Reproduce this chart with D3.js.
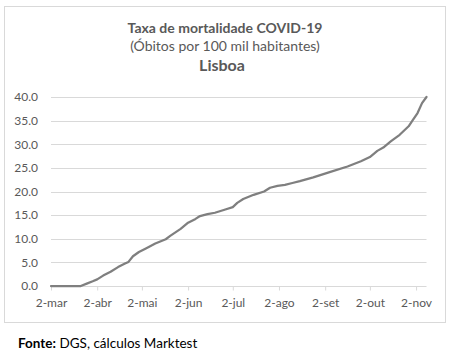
<!DOCTYPE html>
<html>
<head>
<meta charset="utf-8">
<script src="https://cdn.jsdelivr.net/npm/d3@7"></script>
<style>
  html, body { margin: 0; padding: 0; background: #ffffff; }
  svg { display: block; }
</style>
</head>
<body>
<svg id="chart" width="454" height="359"></svg>
<script>
// ---- Data ----
const dates = [
  "2020-03-02","2020-03-22","2020-03-26","2020-03-30","2020-04-02","2020-04-06",
  "2020-04-11","2020-04-16","2020-04-21","2020-04-23","2020-04-26","2020-04-30",
  "2020-05-05","2020-05-11","2020-05-18","2020-05-21","2020-05-28","2020-06-02",
  "2020-06-07","2020-06-10","2020-06-15","2020-06-20","2020-06-27","2020-07-02",
  "2020-07-05","2020-07-09","2020-07-16","2020-07-23","2020-07-27","2020-08-01",
  "2020-08-06","2020-08-11","2020-08-16","2020-08-25","2020-09-05","2020-09-17",
  "2020-09-26","2020-10-02","2020-10-07","2020-10-11","2020-10-16","2020-10-22",
  "2020-10-28","2020-10-31","2020-11-03","2020-11-06","2020-11-09"
];
const rates = [
  0.0, 0.0, 0.5, 1.0, 1.4, 2.2,
  3.0, 4.0, 4.8, 5.1, 6.3, 7.2,
  8.0, 9.0, 9.9, 10.6, 12.1, 13.4,
  14.2, 14.8, 15.2, 15.5, 16.2, 16.7,
  17.6, 18.4, 19.3, 20.0, 20.8, 21.2,
  21.4, 21.8, 22.2, 23.0, 24.1, 25.3,
  26.4, 27.3, 28.6, 29.3, 30.6, 32.0,
  33.8, 35.2, 36.6, 38.7, 40.0
];
const xTickDates = ["2020-03-02","2020-04-02","2020-05-02","2020-06-02","2020-07-02",
                    "2020-08-02","2020-09-02","2020-10-02","2020-11-02"];
const xTickLabels = ["2-mar","2-abr","2-mai","2-jun","2-jul","2-ago","2-set","2-out","2-nov"];
const yTicks = [0, 5, 10, 15, 20, 25, 30, 35, 40];
const titleLines = ["Taxa de mortalidade COVID-19", "(Óbitos por 100 mil habitantes)", "Lisboa"];
const sourceBold = "Fonte:";
const sourceText = " DGS, cálculos Marktest";

// ---- Chart ----
const parse = d3.timeParse("%Y-%m-%d");
const data = dates.map((d, i) => ({ date: parse(d), value: rates[i] }));

const svg = d3.select("#chart");
const font = "Lato, 'Open Sans', sans-serif";
const textColor = "#595959";
const gridColor = "#d9d9d9";

// outer chart border
svg.append("rect")
  .attr("x", 4.5).attr("y", 6.5)
  .attr("width", 441).attr("height", 316)
  .attr("fill", "#fff").attr("stroke", gridColor).attr("stroke-width", 1);

// title
svg.append("text").attr("x", 225).attr("y", 33)
  .attr("text-anchor", "middle").attr("font-family", font)
  .attr("font-size", 14).attr("font-weight", "bold").attr("fill", textColor)
  .text(titleLines[0]);
svg.append("text").attr("x", 225).attr("y", 51)
  .attr("text-anchor", "middle").attr("font-family", font)
  .attr("font-size", 14).attr("fill", textColor)
  .text(titleLines[1]);
svg.append("text").attr("x", 222).attr("y", 71)
  .attr("text-anchor", "middle").attr("font-family", font)
  .attr("font-size", 16).attr("font-weight", "bold").attr("fill", textColor)
  .text(titleLines[2]);

const x = d3.scaleTime()
  .domain([parse("2020-03-02"), parse("2020-11-09")])
  .range([51, 426.5]);
const y = d3.scaleLinear().domain([0, 40]).range([286, 97]);

// gridlines
svg.append("g")
  .selectAll("line")
  .data(yTicks.filter(v => v > 0))
  .join("line")
  .attr("x1", x.range()[0]).attr("x2", x.range()[1])
  .attr("y1", d => Math.round(y(d)) + 0.5).attr("y2", d => Math.round(y(d)) + 0.5)
  .attr("stroke", gridColor).attr("stroke-width", 1);

// y axis labels
const yAxis = d3.axisLeft(y).tickValues(yTicks).tickSize(0).tickPadding(0)
  .tickFormat(d3.format(".1f"));
const yG = svg.append("g").attr("transform", "translate(38,0)").call(yAxis);
yG.select(".domain").remove();
yG.selectAll("text").attr("font-family", font).attr("font-size", 12).attr("fill", textColor);

// x axis
const xAxis = d3.axisBottom(x)
  .tickValues(xTickDates.map(parse))
  .tickSize(4).tickPadding(8)
  .tickFormat((d, i) => xTickLabels[i]);
const xG = svg.append("g").attr("transform", "translate(0," + (Math.round(y(0)) + 0.5) + ")").call(xAxis);
xG.select(".domain").attr("stroke", gridColor).attr("d", "M" + x.range()[0] + ",0H" + x.range()[1]);
xG.selectAll(".tick line").attr("stroke", gridColor);
xG.selectAll("text").attr("font-family", font).attr("font-size", 12).attr("fill", textColor);

// line
const line = d3.line().x(d => x(d.date)).y(d => y(d.value));
svg.append("path").datum(data)
  .attr("d", line)
  .attr("fill", "none").attr("stroke", "#7f7f7f")
  .attr("stroke-width", 2.25).attr("stroke-linejoin", "round").attr("stroke-linecap", "round");

// source
const src = svg.append("text").attr("x", 18).attr("y", 348)
  .attr("font-family", font).attr("font-size", 13.5).attr("fill", "#000");
src.append("tspan").attr("font-weight", "bold").text(sourceBold);
src.append("tspan").text(sourceText);
</script>
</body>
</html>
